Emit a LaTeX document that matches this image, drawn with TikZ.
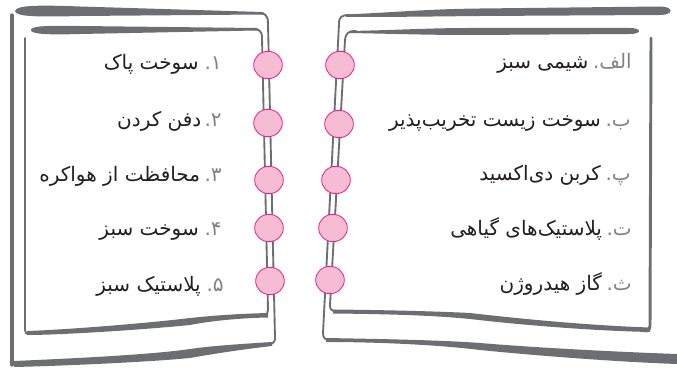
\documentclass[tikz,border=0pt]{standalone}
\usepackage{fontspec}
\newfontfamily\farsifont[Script=Arabic]{DejaVu Sans}
\TeXXeTstate=1
\usepackage{tikz}
\usetikzlibrary{positioning,shapes.geometric}

\definecolor{framegray}{RGB}{109,110,113}
\definecolor{ringfill}{RGB}{246,188,212}
\definecolor{ringdraw}{RGB}{233,30,140}
\definecolor{numgray}{RGB}{128,130,133}
\definecolor{inkblack}{RGB}{35,31,32}

\begin{document}
\begin{tikzpicture}[x=0.75pt, y=-0.75pt,
    frameline/.style={draw=framegray, line width=1.4pt, line cap=round, line join=round},
    ring/.style={ellipse, draw=ringdraw, fill=ringfill, line width=0.6pt, minimum width=21.5pt, minimum height=20.5pt, inner sep=0pt},
    numlabel/.style={font=\farsifont\fontsize{15}{17}\selectfont, text=numgray, inner sep=0pt},
    itemtext/.style={font=\farsifont\fontsize{15}{17}\selectfont, text=inkblack, inner sep=0pt}]
    \useasboundingbox (0,0) rectangle (677,370);

    % Left page, outer sheet
    \fill[framegray] (15,11) .. controls (16,5) and (40,5) .. (80,6.5) -- (262,12) .. controls (265,12.5) and (265,14) .. (262,14.5) -- (80,16) .. controls (40,17) and (15,17) .. cycle;
    \draw[frameline] (255,13) .. controls (266,13) and (268,15) .. (268,24) -- (275,338) .. controls (275,342) and (273,344) .. (268,344.5);
    \fill[framegray] (272,342) .. controls (240,344) and (210,346) .. (190,349) .. controls (150,355) and (60,359) .. (14,361) -- (14,367) .. controls (60,366) and (150,362) .. (190,358) .. controls (212,354) and (245,349) .. (272,346) -- cycle;
    \draw[frameline, line width=2.4pt] (12,15) -- (12,365);

    % Left page, inner sheet
    \fill[framegray] (31,30) .. controls (31,26) and (45,25.5) .. (80,26) -- (256,28) .. controls (259,28) and (259,30.5) .. (256,30.5) -- (80,34) .. controls (45,35) and (31,34) .. cycle;
    \draw[frameline] (250,29) .. controls (259,29) and (262,30) .. (262,38) -- (268,310) .. controls (268,313) and (267,315) .. (263,315);
    \fill[framegray] (268,313) .. controls (230,314) and (210,316) .. (190,318) .. controls (140,324) and (60,330) .. (27,331) -- (27,335) .. controls (60,335) and (140,330) .. (190,325) .. controls (210,321) and (240,318) .. (268,317.5) -- cycle;
    \draw[frameline] (25,38) -- (25,330) .. controls (25,333) and (26,334) .. (30,334);

    % Right page, outer sheet
    \fill[framegray] (346,14.5) .. controls (400,12) and (430,9) .. (480,8.5) -- (660,6.5) .. controls (674,6.5) and (674,15) .. (660,15) -- (480,16) .. controls (430,16.5) and (400,17) .. (346,17) -- cycle;
    \draw[frameline] (350,15) .. controls (341,15) and (339,17) .. (339,24) -- (323,333) .. controls (323,338) and (325,340) .. (330,340);
    \fill[framegray] (326,338) .. controls (380,339) and (440,340) .. (480,343) .. controls (540,348) and (620,352) .. (677,354) -- (677,364) .. controls (620,362) and (540,356) .. (480,350) .. controls (440,345) and (380,342) .. (326,342) -- cycle;

    % Right page, inner sheet
    \fill[framegray] (350,31) .. controls (400,30) and (430,28) .. (470,28) -- (630,28) .. controls (642,28) and (642,34) .. (630,34) -- (470,35) .. controls (430,35) and (400,34) .. (350,33) -- cycle;
    \draw[frameline] (356,31) .. controls (348,31) and (346,33) .. (345,40) -- (330,305) .. controls (330,309) and (331,311) .. (336,311);
    \fill[framegray] (333,309.5) .. controls (380,310) and (430,311) .. (470,313) .. controls (530,320) and (600,326) .. (650,327.5) -- (650,332) .. controls (600,331) and (530,326) .. (470,319) .. controls (430,315) and (380,314) .. (333,313.5) -- cycle;
    \draw[frameline, line width=2.2pt] (651,38) -- (650,326) .. controls (650,329) and (649,331) .. (645,331);

    % Rings, left page
    \node[ring] (ringL1) at (268,65) {};
    \node[ring] (ringL2) at (268,123) {};
    \node[ring] (ringL3) at (269,180) {};
    \node[ring] (ringL4) at (269,228) {};
    \node[ring] (ringL5) at (270,281) {};

    % Rings, right page
    \node[ring] (ringR1) at (340,65) {};
    \node[ring] (ringR2) at (339,124) {};
    \node[ring] (ringR3) at (336,180) {};
    \node[ring] (ringR4) at (333,228) {};
    \node[ring] (ringR5) at (330,280) {};

    % Left column
    \node[numlabel, anchor=base east] (num1) at (222,70) {\beginR ۱\kern0pt.\endR};
    \node[itemtext, base left=4pt of num1] (item1) {\beginR سوخت پاک\endR};
    \node[numlabel, anchor=base east] (num2) at (222,127) {\beginR ۲\kern0pt.\endR};
    \node[itemtext, base left=2pt of num2] (item2) {\beginR دفن کردن\endR};
    \node[numlabel, anchor=base east] (num3) at (222,182) {\beginR ۳\kern0pt.\endR};
    \node[itemtext, base left=3pt of num3] (item3) {\beginR محافظت از هواکره\endR};
    \node[numlabel, anchor=base east] (num4) at (222,235) {\beginR ۴\kern0pt.\endR};
    \node[itemtext, base left=4pt of num4] (item4) {\beginR سوخت سبز\endR};
    \node[numlabel, anchor=base east] (num5) at (224,291) {\beginR ۵\kern0pt.\endR};
    \node[itemtext, base left=4pt of num5] (item5) {\beginR پلاستیک سبز\endR};

    % Right column
    \node[numlabel, anchor=base east] (letA) at (632,69) {\beginR الف\kern0pt.\endR};
    \node[itemtext, base left=3pt of letA] (itemA) {\beginR شیمی سبز\endR};
    \node[numlabel, anchor=base east] (letB) at (631,127) {\beginR ب\kern0pt.\endR};
    \node[itemtext, base left=3pt of letB] (itemB) {\beginR سوخت زیست تخریب‌پذیر\endR};
    \node[numlabel, anchor=base east] (letP) at (631,181) {\beginR پ\kern0pt.\endR};
    \node[itemtext, base left=3pt of letP] (itemP) {\beginR کربن دی‌اکسید\endR};
    \node[numlabel, anchor=base east] (letT) at (632,235) {\beginR ت\kern0pt.\endR};
    \node[itemtext, base left=3pt of letT] (itemT) {\beginR پلاستیک‌های گیاهی\endR};
    \node[numlabel, anchor=base east] (letS) at (632,290) {\beginR ث\kern0pt.\endR};
    \node[itemtext, base left=3pt of letS] (itemS) {\beginR گاز هیدروژن\endR};
\end{tikzpicture}
\end{document}
